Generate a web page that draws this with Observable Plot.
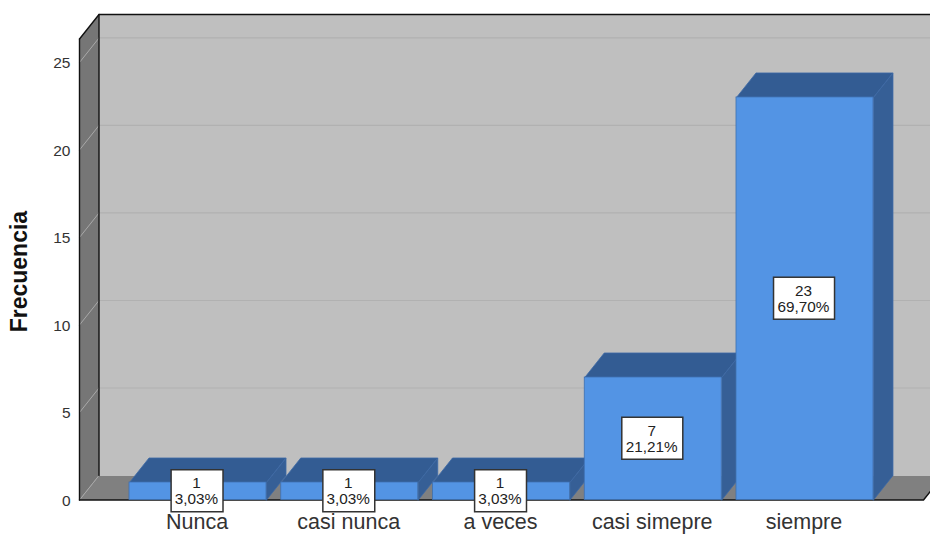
<!DOCTYPE html>
<html lang="es">
<head>
<meta charset="utf-8">
<title>Frecuencia</title>
<script src="https://cdn.jsdelivr.net/npm/d3@7"></script>
<script src="https://cdn.jsdelivr.net/npm/@observablehq/plot@0.6"></script>
<style>
  html, body { margin: 0; padding: 0; background: #fff; overflow: hidden; }
</style>
</head>
<body>
<div id="chart"></div>
<script>
// Survey answers and how often each one was given.
const categorias = ["Nunca", "casi nunca", "a veces", "casi simepre", "siempre"];
const frecuencias = [1, 1, 1, 7, 23];
const porcentajes = [3.03, 3.03, 3.03, 21.21, 69.7];
const marcasY = [0, 5, 10, 15, 20, 25];

// Extent of the box in scale units; the depth offset gives the oblique 3D look.
const xMin = -0.781, xMax = 4.781, yMax = 26.34;
const fondoX = 0.1285, fondoY = 1.4;
const mediaBarra = 0.4514;

const formato = p => p.toFixed(2).replace(".", ",") + "%";
const filas = categorias.map((c, i) => ({
  i,
  valor: frecuencias[i],
  texto: `${frecuencias[i]}\n${formato(porcentajes[i])}`,
  mediaAncho: frecuencias[i] >= 7 ? 0.201 : 0.171
}));

// A closed face drawn as a filled line through its corners.
const cara = (puntos, fill, stroke = "none", strokeWidth = 1) =>
  Plot.line([...puntos, puntos[0]], {
    x: d => d[0], y: d => d[1], fill, stroke, strokeWidth,
    strokeLinejoin: "miter", curve: "linear"
  });
const linea = (puntos, stroke, strokeWidth) =>
  Plot.line(puntos, {x: d => d[0], y: d => d[1], stroke, strokeWidth, curve: "linear"});

const atras = ([x, y]) => [x + fondoX, y + fondoY];

// Back wall, side wall and floor of the box.
const caja = [
  cara([[xMin, 0], [xMax, 0], atras([xMax, 0]), atras([xMin, 0])], "#808080"),
  cara([atras([xMin, 0]), atras([xMax + 1, 0]), atras([xMax + 1, yMax]), atras([xMin, yMax])], "#bfbfbf"),
  cara([[xMin, 0], atras([xMin, 0]), atras([xMin, yMax]), [xMin, yMax]], "#767676"),
  Plot.ruleY(marcasY.filter(v => v > 0), {
    y: v => v + fondoY, x1: xMin + fondoX, x2: xMax + 1, stroke: "#b1b1b1", strokeWidth: 1.2
  }),
  ...marcasY.map(v => linea([[xMin, v], atras([xMin, v])], "#a9a9a9", 1)),
  linea([[xMin, yMax], atras([xMin, yMax]), atras([xMax + 1, yMax])], "#111", 1.4),
  linea([[xMin, 0], [xMin, yMax]], "#111", 1.4),
  linea([atras([xMin, 0]), atras([xMin, yMax])], "#111", 1.4),
  linea([[xMin, 0], [xMax, 0], atras([xMax, 0])], "#111", 1.4)
];

// Each bar paints its top and side first, then its front, from left to right.
const barras = filas.flatMap(({i, valor}) => {
  const a = i - mediaBarra, b = i + mediaBarra;
  return [
    cara([[a, valor], [b, valor], atras([b, valor]), atras([a, valor])], "#335c93", "#3d6aa6", 0.8),
    cara([[b, 0], atras([b, 0]), atras([b, valor]), [b, valor]], "#365f96", "#3d6aa6", 0.8),
    Plot.rect([valor], {
      x1: () => a, x2: () => b, y1: () => 0, y2: v => v,
      fill: "#5394e4", stroke: "#3f70b0", strokeWidth: 0.8
    })
  ];
});

// White value boxes centred on each bar's front face.
const etiquetas = [
  Plot.rect(filas, {
    x1: d => d.i - d.mediaAncho - 0.003,
    x2: d => d.i + d.mediaAncho - 0.003,
    y1: d => d.valor / 2 - 1.2,
    y2: d => d.valor / 2 + 1.2,
    fill: "#fff", stroke: "#333", strokeWidth: 1.5
  }),
  Plot.text(filas, {
    x: d => d.i - 0.01, y: d => d.valor / 2, text: "texto",
    fontSize: 15.3, lineHeight: 1.03, fill: "#222", textAnchor: "middle"
  })
];

const grafico = Plot.plot({
  width: 930,
  height: 535,
  marginLeft: 79,
  marginRight: 7,
  marginTop: 38.5,
  marginBottom: 35.5,
  style: {background: "#fff", fontFamily: "'Liberation Sans', Arial, sans-serif", overflow: "hidden"},
  x: {domain: [xMin, xMax], axis: null},
  y: {domain: [0, yMax], axis: null},
  marks: [
    ...caja,
    ...barras,
    ...etiquetas,
    Plot.axisY({
      ticks: marcasY, tickSize: 0, tickPadding: 9, fontSize: 15.5, stroke: "none",
      color: "#333", label: null, dy: 1
    }),
    Plot.axisX({
      ticks: categorias.map((_, i) => i), tickFormat: i => categorias[i],
      tickSize: 0, tickPadding: 14, fontSize: 21.5, color: "#333", label: null, dx: -1
    }),
    Plot.text(["Frecuencia"], {
      frameAnchor: "middle", x: () => xMin, y: () => 13.05,
      dx: -60, text: d => d, rotate: -90, fontSize: 23, fontWeight: "bold", fill: "#111"
    })
  ]
});
document.getElementById("chart").appendChild(grafico);
</script>
</body>
</html>
